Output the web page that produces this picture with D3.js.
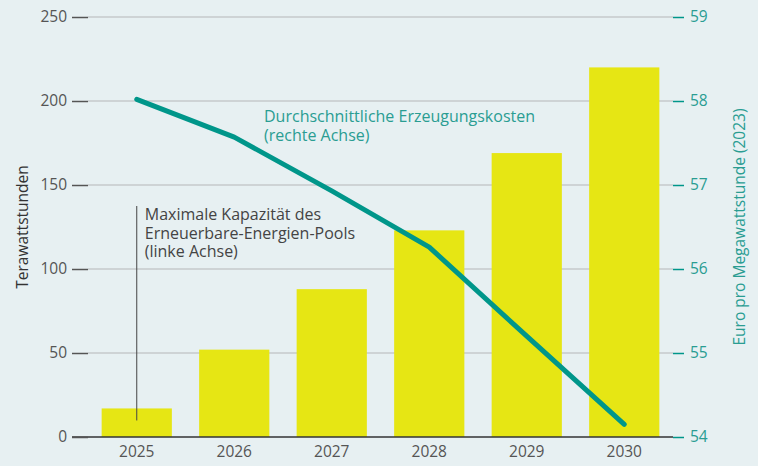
<!DOCTYPE html>
<html>
<head>
<meta charset="utf-8">
<script src="https://cdn.jsdelivr.net/npm/d3@7"></script>
<style>
  body { margin: 0; background: #e7f0f2; }
  svg { display: block; font-family: "Open Sans", "Noto Sans", sans-serif; }
</style>
</head>
<body>
<script>
// Daten
const jahre = ["2025", "2026", "2027", "2028", "2029", "2030"];
const kapazitaet = [17, 52, 88, 123, 169, 220];          // TWh, linke Achse
const kosten = [58.02, 57.57, 56.93, 56.26, 55.2, 54.15]; // EUR/MWh, rechte Achse
const ticksLinks = [0, 50, 100, 150, 200, 250];
const ticksRechts = [54, 55, 56, 57, 58, 59];

const width = 758;
const height = 466;
const margin = { top: 17, right: 85, bottom: 29, left: 88 };

const teal = "#00968a";
const tealText = "#2a9d92";
const grau = "#555";

const svg = d3.select("body")
  .append("svg")
  .attr("width", width)
  .attr("height", height);

svg.append("rect").attr("width", width).attr("height", height).attr("fill", "#e7f0f2");

const x = d3.scaleBand()
  .domain(jahre)
  .range([margin.left, width - margin.right])
  .paddingInner(0.28)
  .paddingOuter(0.14);

const yL = d3.scaleLinear().domain([0, 250]).range([height - margin.bottom, margin.top]);
const yR = d3.scaleLinear().domain([54, 59]).range([height - margin.bottom, margin.top]);

// Gitterlinien
svg.append("g")
  .selectAll("line")
  .data(ticksLinks.filter(d => d > 0))
  .enter()
  .append("line")
  .attr("x1", margin.left)
  .attr("x2", width - margin.right)
  .attr("y1", d => yL(d))
  .attr("y2", d => yL(d))
  .attr("stroke", "#c6cacb")
  .attr("stroke-width", 1.5);

// Balken
svg.append("g")
  .selectAll("rect")
  .data(jahre)
  .enter()
  .append("rect")
  .attr("x", d => x(d))
  .attr("width", x.bandwidth())
  .attr("y", (d, i) => yL(kapazitaet[i]))
  .attr("height", (d, i) => yL(0) - yL(kapazitaet[i]))
  .attr("fill", "#e6e614");

// Nulllinie
svg.append("line")
  .attr("x1", 72).attr("x2", width - margin.right)
  .attr("y1", yL(0)).attr("y2", yL(0))
  .attr("stroke", "#333").attr("stroke-width", 1.5);

// linke Achse
const achseL = svg.append("g")
  .attr("transform", `translate(${margin.left},0)`)
  .call(d3.axisLeft(yL).tickValues(ticksLinks).tickSize(16).tickPadding(5));
achseL.select(".domain").remove();
achseL.selectAll(".tick line").attr("stroke", grau).attr("stroke-width", 1.5);
achseL.selectAll(".tick text").attr("fill", grau).attr("font-size", 15.5).attr("font-family", "Open Sans");

// rechte Achse
const achseR = svg.append("g")
  .attr("transform", `translate(${width - margin.right},0)`)
  .call(d3.axisRight(yR).tickValues(ticksRechts).tickFormat(d3.format("d")).tickSize(11).tickPadding(6));
achseR.select(".domain").remove();
achseR.selectAll(".tick line").attr("stroke", teal).attr("stroke-width", 1.5);
achseR.selectAll(".tick text").attr("fill", tealText).attr("font-size", 15.5).attr("font-family", "Open Sans");

// x-Achse
const achseX = svg.append("g")
  .attr("transform", `translate(0,${yL(0)})`)
  .call(d3.axisBottom(x).tickSize(0).tickPadding(9));
achseX.select(".domain").remove();
achseX.selectAll(".tick text").attr("fill", grau).attr("font-size", 15.5).attr("font-family", "Open Sans");

// Achsentitel
svg.append("text")
  .attr("transform", `translate(28,${(yL(0) + yL(250)) / 2}) rotate(-90)`)
  .attr("text-anchor", "middle")
  .attr("font-size", 15.5)
  .attr("fill", "#333")
  .text("Terawattstunden");

svg.append("text")
  .attr("transform", `translate(745,${(yL(0) + yL(250)) / 2}) rotate(-90)`)
  .attr("text-anchor", "middle")
  .attr("font-size", 15.5)
  .attr("fill", tealText)
  .text("Euro pro Megawattstunde (2023)");

// Linie
const linie = d3.line()
  .x((d, i) => x(jahre[i]) + x.bandwidth() / 2)
  .y(d => yR(d));

svg.append("path")
  .datum(kosten)
  .attr("d", linie)
  .attr("fill", "none")
  .attr("stroke", teal)
  .attr("stroke-width", 5)
  .attr("stroke-linecap", "round")
  .attr("stroke-linejoin", "round");

// Annotation Balken
const ax = x("2025") + x.bandwidth() / 2;
svg.append("line")
  .attr("x1", ax).attr("x2", ax)
  .attr("y1", 206).attr("y2", yL(kapazitaet[0]) + 12)
  .attr("stroke", "#444").attr("stroke-width", 1);

const anno = svg.append("text")
  .attr("x", ax + 8)
  .attr("y", 220)
  .attr("font-size", 16)
  .attr("fill", "#444");
["Maximale Kapazität des", "Erneuerbare-Energien-Pools", "(linke Achse)"].forEach((t, i) => {
  anno.append("tspan").attr("x", ax + 8).attr("dy", i === 0 ? 0 : 18.5).text(t);
});

const anno2 = svg.append("text")
  .attr("x", 264)
  .attr("y", 122)
  .attr("font-size", 16)
  .attr("fill", tealText);
["Durchschnittliche Erzeugungskosten", "(rechte Achse)"].forEach((t, i) => {
  anno2.append("tspan").attr("x", 264).attr("dy", i === 0 ? 0 : 18.5).text(t);
});
</script>
</body>
</html>
